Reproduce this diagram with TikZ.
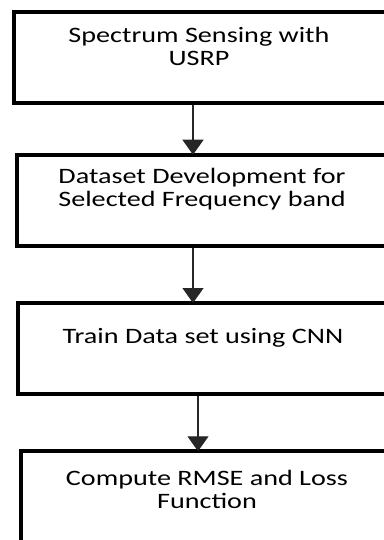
\documentclass[tikz,border=0pt]{standalone}
\usepackage{fontspec}
\setmainfont[FakeStretch=1.28]{Carlito}
\usetikzlibrary{arrows.meta}
\begin{document}
\begin{tikzpicture}[x=1pt,y=1pt,
  box/.style={draw=black,line width=4pt,inner sep=0pt,minimum width=378pt,minimum height=91pt},
  lbl/.style={align=center,inner sep=0pt,font=\fontsize{22}{23}\selectfont,text=black},
  arr/.style={draw=black!85,line width=1.4pt,-{Triangle[width=21pt,length=15pt]},shorten >=-2pt}]
\useasboundingbox (0,0) rectangle (383,-540);
\node[box] (b1) at (203,-57.5) {};
\node[box] (b2) at (205.75,-200.25) {};
\node[box] (b3) at (207.25,-348.5) {};
\node[box,minimum height=109pt] (b4) at (210,-505.75) {};
\node[lbl] (t1) at (199,-46) {Spectrum Sensing with\\USRP};
\node[lbl] (t2) at (202,-189) {Dataset Development for\\Selected Frequency band};
\node[lbl] (t3) at (203,-338) {Train Data set using CNN};
\node[lbl] (t4) at (207,-489) {Compute RMSE and Loss\\Function};
\draw[arr] (b1.south -| 193,0) -- (b2.north -| 193,0);
\draw[arr] (b2.south -| 193,0) -- (b3.north -| 193,0);
\draw[arr] (b3.south -| 198,0) -- (b4.north -| 198,0);
\end{tikzpicture}
\end{document}
